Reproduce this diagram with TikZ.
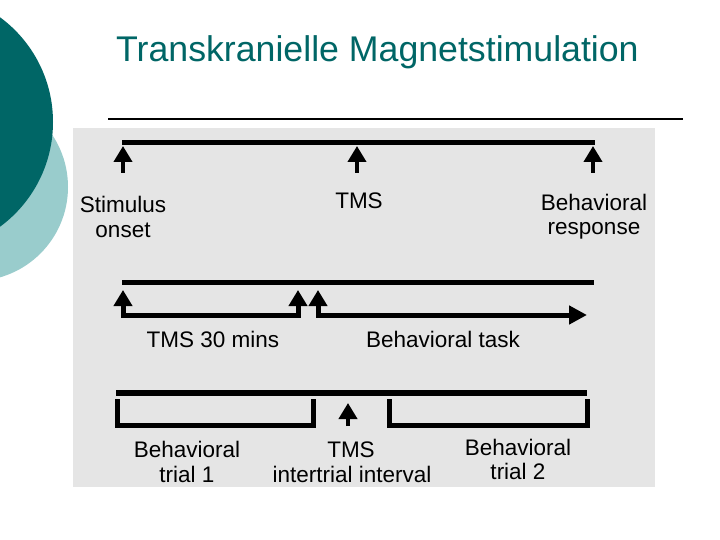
\documentclass[tikz,border=0pt]{standalone}
\usepackage{fontspec}
\setmainfont{Liberation Sans}
\usetikzlibrary{arrows.meta}
\definecolor{darkteal}{RGB}{0,102,102}
\definecolor{lightteal}{RGB}{153,204,204}
\definecolor{scangray}{RGB}{229,229,229}
\begin{document}
\begin{tikzpicture}[x=1pt,y=-1pt,
  bar/.style={line width=5pt},
  uparrow/.style={line width=4.5pt,-{Triangle[width=18pt,length=16pt]}},
  bracketline/.style={line width=5pt,line join=miter},
  lbl/.style={anchor=base,inner sep=0pt,font=\fontsize{22.5}{25}\selectfont}]
\useasboundingbox (0,0) rectangle (720,540);
\fill[white] (0,0) rectangle (720,540);
% decorative circles
\fill[lightteal] (-26,187) circle (94);
\fill[darkteal] (-77,122) circle (130);
% title
\node[anchor=base west,inner sep=0pt,text=darkteal,font=\fontsize{35.7}{40}\selectfont] (title) at (116,62) {Transkranielle Magnetstimulation};
\draw[line width=2pt] (108,119) -- (683,119);
% scanned figure background
\fill[scangray] (73,128) rectangle (655,487);
% ---- row 1 ----
\coordinate (r1a) at (122,143);
\coordinate (r1b) at (595,143);
\draw[bar] (r1a) -- (r1b);
\coordinate (a1b) at (123,173); \coordinate (a1t) at (123,146);
\coordinate (a2b) at (357,173); \coordinate (a2t) at (357,146);
\coordinate (a3b) at (593,173); \coordinate (a3t) at (593,146);
\draw[uparrow] (a1b) -- (a1t);
\draw[uparrow] (a2b) -- (a2t);
\draw[uparrow] (a3b) -- (a3t);
\node[lbl] (stim1) at (123,212) {Stimulus};
\node[lbl] (stim2) at (123,237) {onset};
\node[lbl] (tms1) at (359,209) {TMS};
\node[lbl] (resp1) at (594,211) {Behavioral};
\node[lbl] (resp2) at (594,235) {response};
% ---- row 2 ----
\coordinate (r2a) at (122,282);
\coordinate (r2b) at (594,282);
\draw[bar] (r2a) -- (r2b);
\coordinate (b1t) at (123,290); \coordinate (b1c) at (123,315);
\coordinate (b2c) at (298,315); \coordinate (b2t) at (298,290);
\draw[bracketline,{Triangle[width=18pt,length=16pt]}-{Triangle[width=18pt,length=16pt]}] (b1t) -- (b1c) -- (b2c) -- (b2t);
\coordinate (c1t) at (318,290); \coordinate (c1c) at (318,315);
\coordinate (c2) at (587,315);
\draw[bracketline,{Triangle[width=18pt,length=16pt]}-{Triangle[width=18pt,length=18pt]}] (c1t) -- (c1c) -- (c2);
\node[lbl] (tms30) at (213,347) {TMS 30 mins};
\node[lbl] (task) at (443,347) {Behavioral task};
% ---- row 3 ----
\coordinate (r3a) at (116,393);
\coordinate (r3b) at (587,393);
\draw[line width=5.5pt] (r3a) -- (r3b);
\coordinate (l1) at (117,399); \coordinate (l2) at (117,425);
\coordinate (l3) at (313,425); \coordinate (l4) at (313,399);
\draw[bracketline] (l1) -- (l2) -- (l3) -- (l4);
\coordinate (m1) at (389,399); \coordinate (m2) at (389,425);
\coordinate (m3) at (587,425); \coordinate (m4) at (587,399);
\draw[bracketline] (m1) -- (m2) -- (m3) -- (m4);
\coordinate (d1b) at (348,426); \coordinate (d1t) at (348,403);
\draw[uparrow] (d1b) -- (d1t);
\node[lbl] (bt1a) at (187,457) {Behavioral};
\node[lbl] (bt1b) at (187,482) {trial 1};
\node[lbl] (tms3a) at (351,457) {TMS};
\node[lbl] (tms3b) at (352,482) {intertrial interval};
\node[lbl] (bt2a) at (518,455) {Behavioral};
\node[lbl] (bt2b) at (518,479) {trial 2};
\end{tikzpicture}
\end{document}
